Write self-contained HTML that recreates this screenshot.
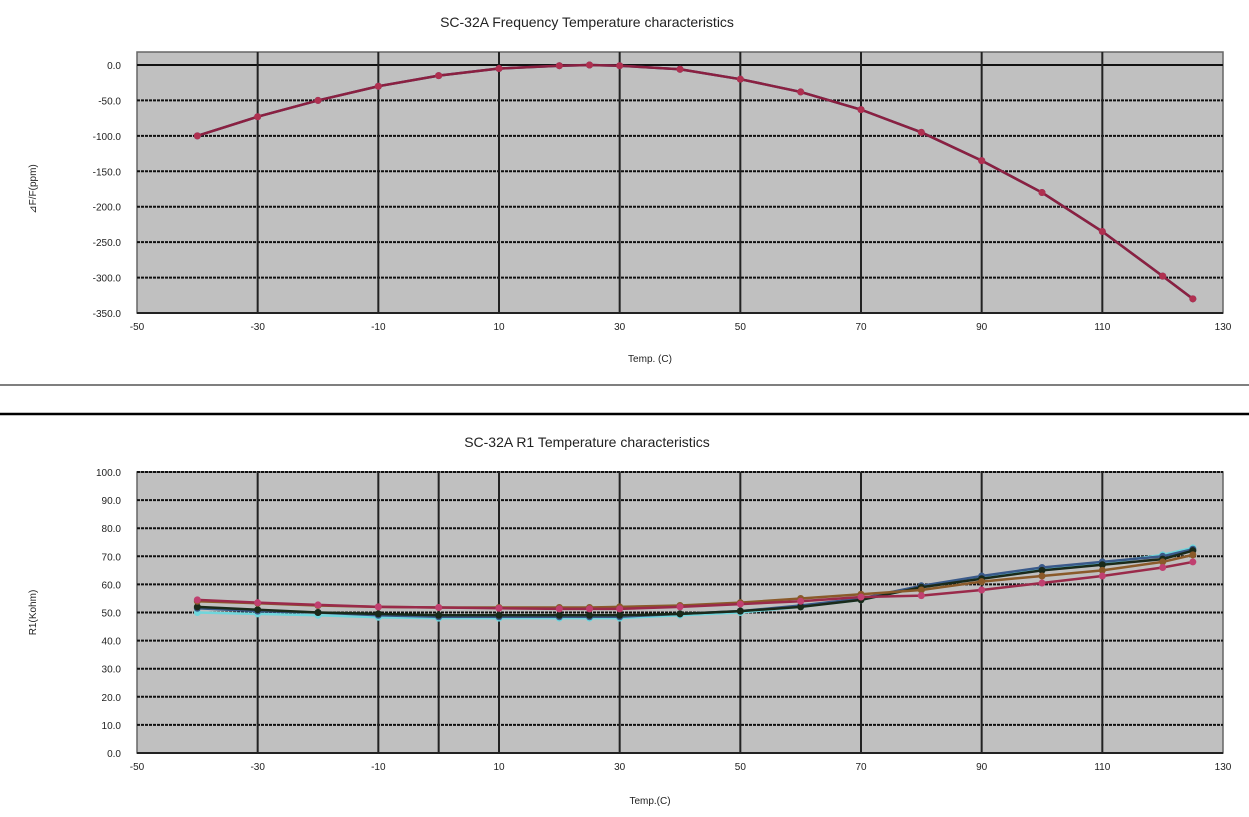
<!DOCTYPE html>
<html><head><meta charset="utf-8"><style>
html,body{margin:0;padding:0;background:#fff;width:1249px;height:817px;overflow:hidden;font-family:"Liberation Sans",Arial,sans-serif}
</style></head><body>
<svg id="svg" width="1249" height="817" xmlns="http://www.w3.org/2000/svg">
<line x1="0" y1="385" x2="1249" y2="385" stroke="#555" stroke-width="1.5"/>
<line x1="0" y1="414" x2="1249" y2="414" stroke="#000" stroke-width="2.5"/>
</svg>
<script>
const temps=[-40,-30,-20,-10,0,10,20,25,30,40,50,60,70,80,90,100,110,120,125];
const freqValues=[-100,-73,-50,-30,-15,-5,-1,0,-1,-6,-20,-38,-63,-95,-135,-180,-235,-298,-330];
const freqTicks=[0,-50,-100,-150,-200,-250,-300,-350];
const xTicks=[-50,-30,-10,10,30,50,70,90,110,130];
const r1Ticks=[0,10,20,30,40,50,60,70,80,90,100];
const r1Red=[54.5,53.5,52.7,52,51.8,51.5,51.3,51.3,51.3,52,53,54,55.5,56,58,60.5,63,66,68];
const r1Brown=[54,53.3,52.5,52,51.8,51.8,51.8,51.8,52,52.5,53.5,55,56.5,58,61,63,65,68,70.5];
const r1Black=[52,51,50,49.5,49,49,49,49,49,49.5,50.5,52,54.5,59,62,65,67,69,72];
const r1Blue=[51.5,50.5,50,49,48.5,48.5,48.5,48.5,48.5,49.5,50.5,52.5,55,59.5,63,66,68,70,72.5];
const r1Cyan=[50,49.5,49,48.3,48,48,48,48,48,49,50,52,54.5,59,62.5,65.5,67.5,70.5,73];

const NS="http://www.w3.org/2000/svg";
const svg=document.getElementById('svg');
function mk(t,a,p){const e=document.createElementNS(NS,t);for(const k in a)e.setAttribute(k,a[k]);(p||svg).appendChild(e);return e;}
const X0=137,X1=1223;
const xs=v=>X0+(v+50)/180*(X1-X0);

function chart(o){
  const g=mk('g',{});
  
  
  const ys=v=>o.yb-(v-o.min)/(o.max-o.min)*(o.yb-o.y0);
  const bg=mk('rect',{x:X0,y:o.top,width:X1-X0,height:o.yb-o.top,fill:'#c0c0c0',stroke:'#666','stroke-width':1.5},g);
  
  
  o.yt.forEach(v=>{
    const y=ys(v);
    if(v!==o.min){const l=mk('line',{x1:X0,y1:y,x2:X1,y2:y,stroke:'#111','stroke-width':v===0?2:2,'stroke-dasharray':v===0?'':'3,1'},g);
    
    }
    const t=mk('text',{x:121,y:y+4,'text-anchor':'end','font-size':10,fill:'#222'},g);t.textContent=v.toFixed(1);
    
    
  });
  const vx=xTicks.slice(1,-1).concat(o.zeroLine?[0]:[]);
  vx.forEach(v=>{const l=mk('line',{x1:xs(v),y1:o.top,x2:xs(v),y2:o.yb,stroke:'#222','stroke-width':2},g);
    
    });
  mk('line',{x1:X0,y1:o.yb,x2:X1,y2:o.yb,stroke:'#222','stroke-width':2},g);
  xTicks.forEach(v=>{const t=mk('text',{x:xs(v),y:o.yb+17,'text-anchor':'middle','font-size':10,fill:'#222'},g);t.textContent=v;
    
    });
  const ti=mk('text',{x:587,y:o.titleY,'text-anchor':'middle','font-size':14,fill:'#222'},g);ti.textContent=o.title;
  
  
  const xt=mk('text',{x:650,y:o.xtY,'text-anchor':'middle','font-size':10,fill:'#222'},g);xt.textContent=o.xt;
  
  
  const yc=(o.y0+o.yb)/2;
  const yt=mk('text',{x:36,y:yc,'text-anchor':'middle','font-size':10,fill:'#222',transform:`rotate(-90 36 ${yc})`},g);yt.textContent=o.ytTitle;
  
  
  o.series.forEach(s=>{
    const pts=temps.map((t,i)=>xs(t)+','+ys(s.v[i])).join(' ');
    const pl=mk('polyline',{points:pts,fill:'none',stroke:s.c,'stroke-width':2.5},g);
    
    
    temps.forEach((t,i)=>{const c=mk('circle',{cx:xs(t),cy:ys(s.v[i]),r:3.5,fill:s.m||s.c},g);
      
      });
  });
}
chart({name:'frequency-chart',title:'SC-32A Frequency Temperature characteristics',xt:'Temp. (C)',ytTitle:'⊿F/F(ppm)',
  top:52,y0:65,yb:313,min:-350,max:0,yt:freqTicks,titleY:27,xtY:362,zeroLine:false,
  series:[{n:'freq-series-blue',v:freqValues,c:'#3a3f7a'},{n:'freq-series-red',v:freqValues,c:'#8b2040',m:'#b03050'}]});
chart({name:'r1-chart',title:'SC-32A R1 Temperature characteristics',xt:'Temp.(C)',ytTitle:'R1(Kohm)',
  top:472,y0:472,yb:753,min:0,max:100,yt:r1Ticks,titleY:447,xtY:804,zeroLine:true,
  series:[{n:'r1-cyan',v:r1Cyan,c:'#6fd6dc'},{n:'r1-blue',v:r1Blue,c:'#3a5a8a'},{n:'r1-black',v:r1Black,c:'#1a2a1a'},
  {n:'r1-brown',v:r1Brown,c:'#8a5a2a'},{n:'r1-red',v:r1Red,c:'#9a2a4a',m:'#c04070'}]});
</script>
</body></html>
